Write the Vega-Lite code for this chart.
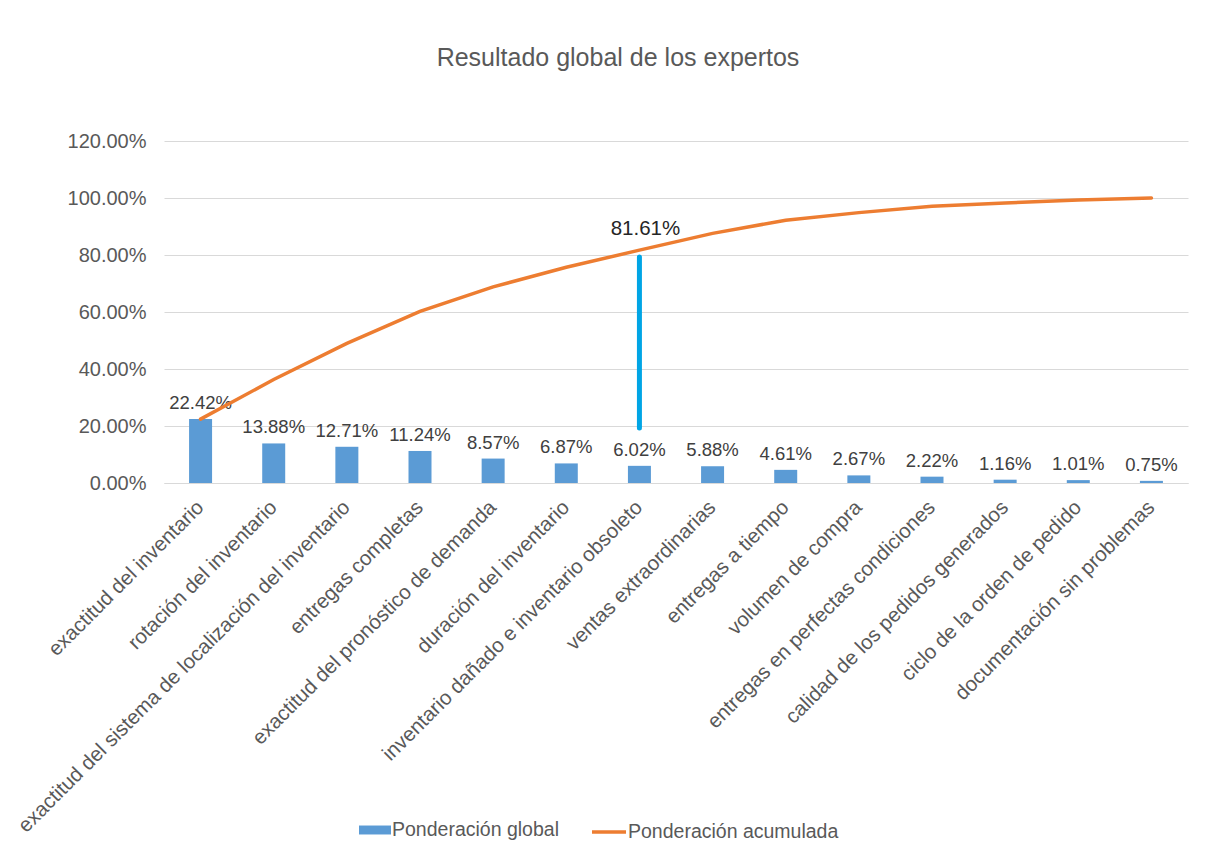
{
  "$schema": "https://vega.github.io/schema/vega-lite/v6.json",
  "width": 1024,
  "height": 342,
  "autosize": {"type": "none"},
  "padding": {"left": 164, "top": 141, "right": 34, "bottom": 367},
  "background": "white",
  "config": {
    "view": {"stroke": null},
    "font": "Liberation Sans"
  },
  "title": {
    "text": "Resultado global de los expertos",
    "fontSize": 25,
    "fontWeight": "normal",
    "color": "#595959",
    "anchor": "middle",
    "dx": -58,
    "offset": 60,
    "font": "Liberation Sans"
  },
  "data": {
    "values": [
      {"categoria": "exactitud del inventario", "global": 0.2242, "acumulada": 0.2242},
      {"categoria": "rotación del inventario", "global": 0.1388, "acumulada": 0.3630},
      {"categoria": "exactitud del sistema de localización del inventario", "global": 0.1271, "acumulada": 0.4901},
      {"categoria": "entregas completas", "global": 0.1124, "acumulada": 0.6025},
      {"categoria": "exactitud del pronóstico de demanda", "global": 0.0857, "acumulada": 0.6882},
      {"categoria": "duración del inventario", "global": 0.0687, "acumulada": 0.7569},
      {"categoria": "inventario dañado e inventario obsoleto", "global": 0.0602, "acumulada": 0.8171},
      {"categoria": "ventas extraordinarias", "global": 0.0588, "acumulada": 0.8759},
      {"categoria": "entregas a tiempo", "global": 0.0461, "acumulada": 0.9220},
      {"categoria": "volumen de compra", "global": 0.0267, "acumulada": 0.9487},
      {"categoria": "entregas en perfectas condiciones", "global": 0.0222, "acumulada": 0.9709},
      {"categoria": "calidad de los pedidos generados", "global": 0.0116, "acumulada": 0.9825},
      {"categoria": "ciclo de la orden de pedido", "global": 0.0101, "acumulada": 0.9926},
      {"categoria": "documentación sin problemas", "global": 0.0075, "acumulada": 1.0}
    ]
  },
  "encoding": {
    "x": {
      "field": "categoria",
      "type": "nominal",
      "sort": null,
      "scale": {"paddingInner": 0, "paddingOuter": 0},
      "axis": {
        "title": null,
        "labelAngle": -45,
        "labelAlign": "right",
        "labelBaseline": "middle",
        "labelFontSize": 20.5,
        "labelColor": "#595959",
        "labelPadding": 21,
        "labelLimit": 700,
        "ticks": false,
        "domainColor": "#D9D9D9",
        "domainWidth": 1,
        "grid": false
      }
    }
  },
  "layer": [
    {
      "mark": {"type": "bar", "size": 23},
      "encoding": {
        "y": {
          "field": "global",
          "type": "quantitative",
          "scale": {"domain": [0, 1.2]},
          "axis": {
            "title": null,
            "values": [0, 0.2, 0.4, 0.6, 0.8, 1.0, 1.2],
            "format": ".2%",
            "labelFontSize": 20,
            "labelColor": "#595959",
            "labelPadding": 18,
            "ticks": false,
            "domain": false,
            "gridColor": "#D9D9D9",
            "gridWidth": 1
          }
        },
        "fill": {
          "datum": "Ponderación global",
          "scale": {"range": ["#5B9BD5"]},
          "legend": {
            "title": null,
            "orient": "none",
            "legendX": 194,
            "legendY": 672,
            "symbolType": "M-1,-0.28H1V0.28H-1Z",
            "symbolSize": 1024,
            "labelFontSize": 19.5,
            "labelColor": "#595959",
            "labelOffset": 0,
            "labelLimit": 400
          }
        }
      }
    },
    {
      "mark": {"type": "text", "baseline": "bottom", "dy": -6, "fontSize": 18.5, "color": "#404040"},
      "encoding": {
        "y": {"field": "global", "type": "quantitative"},
        "text": {"field": "global", "type": "quantitative", "format": ".2%"}
      }
    },
    {
      "mark": {"type": "line", "strokeWidth": 3.5, "strokeCap": "round"},
      "encoding": {
        "y": {"field": "acumulada", "type": "quantitative"},
        "stroke": {
          "datum": "Ponderación acumulada",
          "scale": {"range": ["#ED7D31"]},
          "legend": {
            "title": null,
            "orient": "none",
            "legendX": 426,
            "legendY": 672,
            "symbolType": "stroke",
            "symbolSize": 1156,
            "symbolStrokeWidth": 3.5,
            "labelFontSize": 19.5,
            "labelColor": "#595959",
            "labelOffset": 0,
            "labelLimit": 400
          }
        }
      }
    },
    {
      "data": {"values": [{"categoria": "inventario dañado e inventario obsoleto", "desde": 0.193, "hasta": 0.793}]},
      "mark": {"type": "rule", "strokeWidth": 5, "strokeCap": "round", "color": "#00A5E5"},
      "encoding": {
        "y": {"field": "desde", "type": "quantitative"},
        "y2": {"field": "hasta"}
      }
    },
    {
      "data": {"values": [{"categoria": "inventario dañado e inventario obsoleto", "valor": 0.8161, "etiqueta": "81.61%"}]},
      "mark": {"type": "text", "fontSize": 20.5, "color": "#262626", "dy": -21, "dx": 6},
      "encoding": {
        "y": {"field": "valor", "type": "quantitative"},
        "text": {"field": "etiqueta"}
      }
    }
  ]
}
